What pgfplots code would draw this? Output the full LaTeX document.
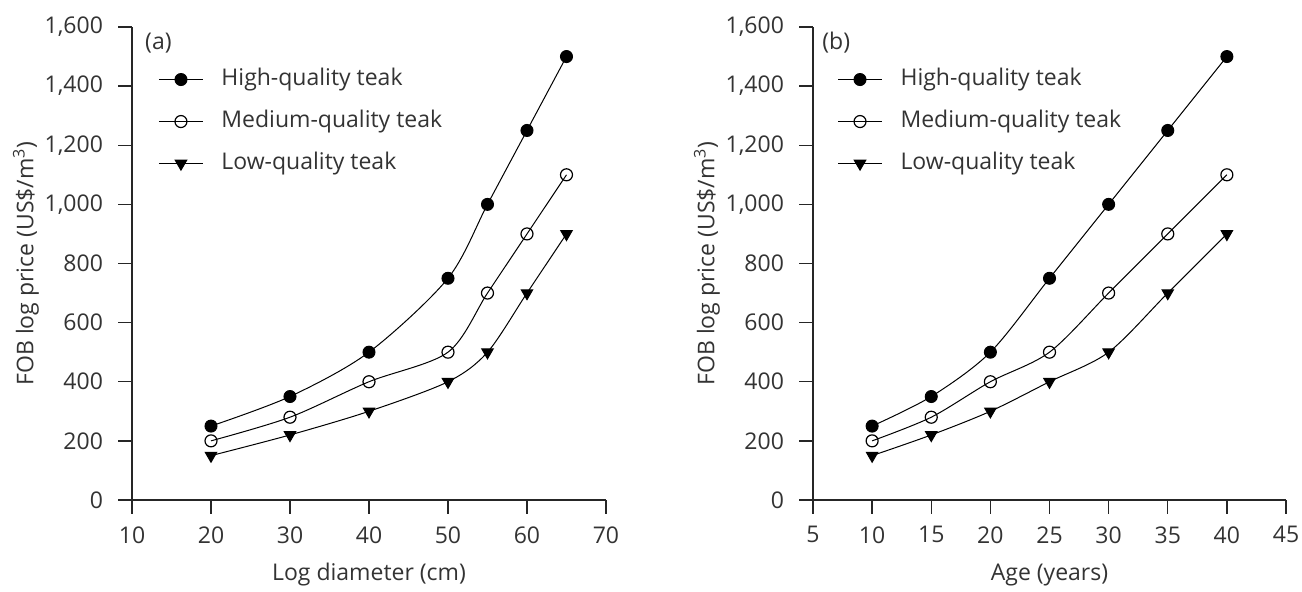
\documentclass[border=0pt]{standalone}
\usepackage{fontspec}
\setmainfont{Open Sans}
\usepackage{pgfplots}
\pgfplotsset{compat=1.18}

\definecolor{txt}{HTML}{333333}

\pgfplotsset{
  teak/.style={
    scale only axis,
    height=236.5pt,
    ymin=0, ymax=1600,
    ytick={0,200,...,1600},
    axis x line*=bottom,
    axis y line*=left,
    axis line style={-, black!85, line width=0.7pt},
    tick style={black!85, line width=0.7pt},
    tick align=outside,
    major tick length=7pt,
    clip=false,
    font=\fontsize{11.5}{13}\selectfont,
    every tick label/.append style={text=txt, font=\fontsize{11.5}{13}\selectfont},
    /pgf/number format/assume math mode=true,
    /pgf/number format/1000 sep={,},
    yticklabel style={xshift=-4pt},
    xticklabel style={yshift=-2.7pt},
    label style={text=txt, font=\fontsize{11.5}{13}\selectfont},
    ylabel style={at={([xshift=-53pt]axis description cs:0,0.5)}, anchor=center},
    xlabel style={at={([yshift=-37.5pt]axis description cs:0.5,0)}, anchor=center},
    ylabel={FOB log price (US\$/m\textsuperscript{3})},
    legend cell align=left,
    legend style={draw=none, fill=none, text=txt, anchor=north west,
      font=\fontsize{11.5}{13}\selectfont, row sep=10pt, column sep=9pt,
      inner sep=0pt, nodes={inner sep=0pt, text height=8.5pt, text depth=2.5pt}},
    legend image code/.code={
      \draw[mark repeat=2, mark phase=2] plot coordinates {(0pt,0pt) (11pt,0pt) (22pt,0pt)};
    },
  },
  hi/.style={black, line width=0.5pt, smooth, tension=0.5, mark=*, mark size=3pt, mark options={fill=black}},
  mid/.style={black, line width=0.5pt, smooth, tension=0.5, mark=o, mark size=3pt, mark options={fill=white, line width=0.6pt}},
  lo/.style={black, line width=0.5pt, smooth, tension=0.5, mark=triangle*, mark size=3.3pt, mark options={fill=black, rotate=180}},
}

\begin{document}
\begin{tikzpicture}[x=1pt, y=1pt]
\path[use as bounding box] (0,0) rectangle (651,296);

% (a) price against log diameter
\begin{axis}[teak,
    at={(66pt,46pt)}, anchor=south west,
    width=237pt,
    xmin=10, xmax=70,
    xtick={10,20,...,70},
    xlabel={Log diameter (cm)},
    legend style={at={(rel axis cs:0.055,0.913)}},
  ]
  \addplot[hi] coordinates {(20,250) (30,350) (40,500) (50,750) (55,1000) (60,1250) (65,1500)};
  \addlegendentry{High-quality teak}
  \addplot[mid] coordinates {(20,200) (30,280) (40,400) (50,500) (55,700) (60,900) (65,1100)};
  \addlegendentry{Medium-quality teak}
  \addplot[lo] coordinates {(20,150) (30,220) (40,300) (50,400) (55,500) (60,700) (65,900)};
  \addlegendentry{Low-quality teak}
  \node[text=txt, font=\fontsize{11.5}{13}\selectfont, anchor=west, inner sep=0pt] at (rel axis cs:0.027,0.966) {(a)};
\end{axis}

% (b) price against age
\begin{axis}[teak,
    at={(406.5pt,46pt)}, anchor=south west,
    width=236.5pt,
    xmin=5, xmax=45,
    xtick={5,10,...,45},
    xlabel={Age (years)},
    legend style={at={(rel axis cs:0.051,0.913)}},
  ]
  \addplot[hi] coordinates {(10,250) (15,350) (20,500) (25,750) (30,1000) (35,1250) (40,1500)};
  \addlegendentry{High-quality teak}
  \addplot[mid] coordinates {(10,200) (15,280) (20,400) (25,500) (30,700) (35,900) (40,1100)};
  \addlegendentry{Medium-quality teak}
  \addplot[lo] coordinates {(10,150) (15,220) (20,300) (25,400) (30,500) (35,700) (40,900)};
  \addlegendentry{Low-quality teak}
  \node[text=txt, font=\fontsize{11.5}{13}\selectfont, anchor=west, inner sep=0pt] at (rel axis cs:0.019,0.966) {(b)};
\end{axis}
\end{tikzpicture}
\end{document}
